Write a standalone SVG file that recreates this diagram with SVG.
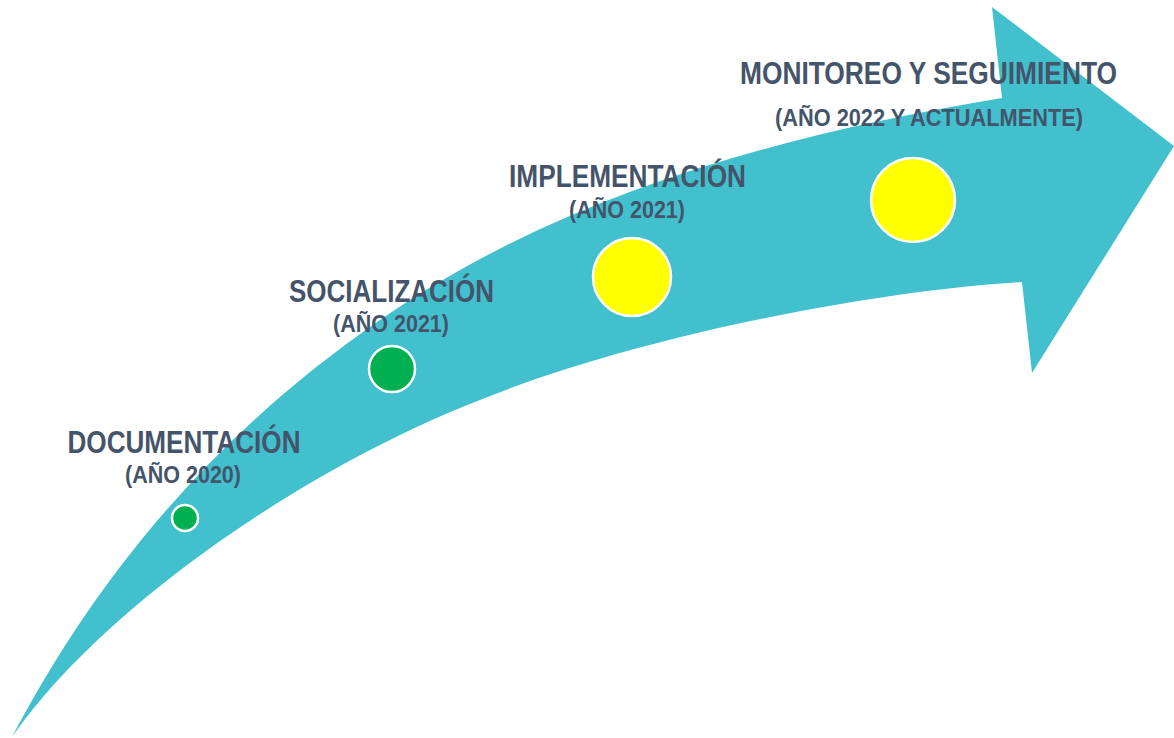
<svg xmlns="http://www.w3.org/2000/svg" width="1174" height="738" viewBox="0 0 1174 738">
<style>
.t{font-family:"Liberation Sans",Arial,sans-serif;font-weight:bold;fill:#44546A;text-anchor:middle}
.h{font-size:32px}
.s{font-size:24px}
.dot{stroke:#FFFFFF;stroke-width:2.5}
</style>
<rect width="1174" height="738" fill="#FFFFFF"/>
<g id="arrow">
<path d="M12,737 C100,570 220,430 380,320 C560,195 780,135 1002,98 L992,7 L1174,146 L1032,373 L1022,282 C880,290 640,335 480,400 C300,470 100,610 12,737 Z" fill="#42C0CE"/>
</g>
<g id="node-documentacion">
<text class="t h" x="184" y="453" textLength="233" lengthAdjust="spacingAndGlyphs">DOCUMENTACIÓN</text>
<text class="t s" x="183" y="483" textLength="116" lengthAdjust="spacingAndGlyphs">(AÑO 2020)</text>
<circle class="dot" cx="185" cy="518" r="13" fill="#00B050"/>
</g>
<g id="node-socializacion">
<text class="t h" x="391.5" y="302" textLength="205" lengthAdjust="spacingAndGlyphs">SOCIALIZACIÓN</text>
<text class="t s" x="391" y="332" textLength="116" lengthAdjust="spacingAndGlyphs">(AÑO 2021)</text>
<circle class="dot" cx="392" cy="369" r="23" fill="#00B050"/>
</g>
<g id="node-implementacion">
<text class="t h" x="627.5" y="187" textLength="237" lengthAdjust="spacingAndGlyphs">IMPLEMENTACIÓN</text>
<text class="t s" x="627" y="218" textLength="116" lengthAdjust="spacingAndGlyphs">(AÑO 2021)</text>
<circle class="dot" cx="632" cy="277" r="39" fill="#FFFF00"/>
</g>
<g id="node-monitoreo">
<text class="t h" x="928.5" y="84" textLength="377" lengthAdjust="spacingAndGlyphs">MONITOREO Y SEGUIMIENTO</text>
<text class="t s" x="929" y="126" textLength="308" lengthAdjust="spacingAndGlyphs">(AÑO 2022 Y ACTUALMENTE)</text>
<circle class="dot" cx="913" cy="200" r="42" fill="#FFFF00"/>
</g>
<g id="connectors"></g>
</svg>
